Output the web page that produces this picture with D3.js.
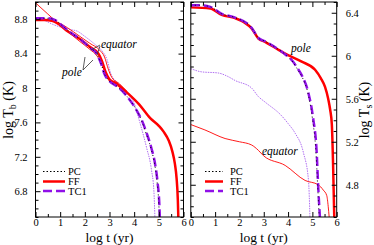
<!DOCTYPE html>
<html><head><meta charset="utf-8">
<script src="https://cdn.jsdelivr.net/npm/d3@7"></script>
<style>
html,body{margin:0;padding:0;background:#fff;}
svg text{font-family:"Liberation Serif","DejaVu Serif",serif !important;fill:#000;}
</style></head>
<body><svg id="c" width="374" height="245"></svg>
<script>
// ---- data ----
const xTicks = [0,1,2,3,4,5,6];
const tbTicks = [6.8,7.2,7.6,8,8.4,8.8];
const tsTicks = [4.8,5.2,5.6,6,6.4];
const legendNames = ["PC","FF","TC1"];

// left panel: log Tb vs log t
const tbFF = [[0,8.79],[0.4,8.79],[0.7,8.78],[1.0,8.73],[1.3,8.66],[1.8,8.57],[2.2,8.48],[2.55,8.40],[2.7,8.31],[2.85,8.18],[3.0,8.10],[3.3,8.05],[3.7,7.95],[4.2,7.81],[4.65,7.65],[5.0,7.56],[5.2,7.49],[5.4,7.39],[5.55,7.26],[5.65,7.12],[5.72,6.95],[5.77,6.7],[5.79,6.5]];
const tbTC1 = [[0,8.81],[0.5,8.81],[0.8,8.79],[1.1,8.72],[1.4,8.65],[1.8,8.57],[2.2,8.47],[2.5,8.39],[2.65,8.29],[2.8,8.16],[3.0,8.08],[3.3,8.02],[3.6,7.94],[3.9,7.83],[4.1,7.74],[4.3,7.63],[4.5,7.48],[4.7,7.30],[4.84,7.13],[4.95,6.9],[5.02,6.65],[5.04,6.5]];
const tbPC = [[0,8.81],[0.5,8.81],[0.8,8.79],[1.1,8.72],[1.4,8.65],[1.8,8.57],[2.2,8.47],[2.5,8.39],[2.65,8.29],[2.8,8.16],[3.0,8.08],[3.3,8.02],[3.6,7.94],[3.9,7.83],[4.1,7.74],[4.3,7.62],[4.5,7.46],[4.7,7.28],[4.84,7.10],[4.94,6.88],[5.0,6.65],[5.02,6.5]];
const tbFFpole = [[0,8.99],[0.5,8.86],[1.0,8.73],[1.5,8.61],[1.8,8.54],[2.2,8.45],[2.5,8.37],[2.7,8.27],[2.85,8.15],[3.0,8.08],[3.3,8.03],[3.7,7.94]];
const tbFFeq = [[0,8.79],[0.7,8.78],[1.0,8.75],[1.3,8.70],[1.8,8.60],[2.2,8.52],[2.6,8.44],[2.8,8.36],[2.95,8.22],[3.1,8.12],[3.4,8.05],[3.7,7.96]];
const tbTC1eq = [[0,8.80],[0.4,8.78],[0.7,8.74],[1.0,8.71],[1.4,8.68],[1.7,8.66],[2.0,8.60],[2.4,8.51],[2.7,8.43],[2.9,8.33],[3.05,8.17],[3.3,8.07],[3.7,7.95],[4.0,7.82],[4.23,7.60],[4.5,7.31],[4.7,7.05],[4.8,6.8],[4.84,6.5]];

// right panel: log Ts vs log t
const tsFFpole = [[0,6.45],[0.8,6.44],[1.27,6.38],[1.82,6.35],[2.2,6.31],[2.5,6.255],[2.78,6.16],[3.05,6.13],[3.5,6.07],[3.88,6.02],[4.56,5.945],[5.11,5.87],[5.35,5.79],[5.52,5.71],[5.65,5.6],[5.73,5.50],[5.80,5.36],[5.85,5.0],[5.9,4.5]];
const tsTC1pole = [[0,6.47],[0.4,6.47],[0.8,6.455],[1.27,6.39],[1.82,6.355],[2.5,6.26],[2.78,6.165],[3.05,6.135],[3.5,6.075],[3.9,6.01],[4.15,5.96],[4.4,5.88],[4.56,5.82],[4.84,5.65],[5.03,5.42],[5.18,5.09],[5.24,4.78],[5.31,4.5]];
const tsPCpole = [[0,6.47],[0.4,6.47],[0.8,6.455],[1.27,6.39],[1.82,6.355],[2.5,6.26],[2.78,6.165],[3.05,6.135],[3.5,6.075],[3.9,6.01],[4.15,5.955],[4.4,5.87],[4.56,5.81],[4.84,5.63],[5.0,5.42],[5.15,5.09],[5.22,4.78],[5.28,4.5]];
const tsFFeq = [[0,5.36],[0.58,5.31],[1.41,5.23],[2.0,5.20],[2.5,5.17],[2.78,5.12],[2.99,5.07],[3.88,4.98],[4.7,4.84],[5.24,4.80],[5.45,4.75],[5.59,4.70],[5.65,4.6],[5.69,4.5]];
const tsTC1eq = [[0,5.88],[0.45,5.85],[1.12,5.84],[1.5,5.81],[1.82,5.77],[2.5,5.70],[2.78,5.62],[3.05,5.57],[3.74,5.44],[4.0,5.37],[4.29,5.28],[4.63,5.10],[4.84,4.84],[4.9,4.5]];

// ---- drawing ----
const FONT = '"Liberation Serif","DejaVu Serif",serif';
const svg = d3.select("#c");
const RED = "#ff0000", PUR = "#9010e8", LPUR = "#b070f0";
const yTop = 2, yBot = 217;

function panel(x0, x1, ydom, yticks, labelSide) {
  const g = svg.append("g");
  const x = d3.scaleLinear().domain([0,6]).range([x0,x1]);
  const y = d3.scaleLinear().domain(ydom).range([yBot,yTop]);
  const id = "clip" + Math.round(x0);
  svg.append("clipPath").attr("id", id).append("rect")
    .attr("x", x0).attr("y", yTop).attr("width", x1-x0).attr("height", yBot-yTop);
  g.append("rect").attr("x", x0).attr("y", yTop).attr("width", x1-x0).attr("height", yBot-yTop)
    .attr("fill", "#fff");
  const plot = g.append("g").attr("clip-path", `url(#${id})`);
  const xMinor = d3.range(0, 6.01, 0.5).filter(v => v % 1 !== 0);
  const yMinor = d3.range(Math.ceil(ydom[0]*10)/10, ydom[1]+1e-6, 0.1).filter(v => !yticks.some(t => Math.abs(t-v) < 1e-6));
  const axB = d3.axisBottom(x).tickValues(xTicks).tickSize(-5).tickPadding(1.5).tickFormat(d3.format("d"));
  const axT = d3.axisTop(x).tickValues(xTicks).tickSize(-5).tickFormat("");
  g.append("g").attr("transform", `translate(0,${yBot})`).call(axB);
  g.append("g").attr("transform", `translate(0,${yBot})`).call(d3.axisBottom(x).tickValues(xMinor).tickSize(-3).tickFormat(""));
  g.append("g").attr("transform", `translate(0,${yTop})`).call(axT);
  g.append("g").attr("transform", `translate(0,${yTop})`).call(d3.axisTop(x).tickValues(xMinor).tickSize(-3).tickFormat(""));
  const fmt = d => (Math.abs(d % 1) < 1e-9 ? d3.format("d")(d) : d3.format(".1f")(d));
  const axL = d3.axisLeft(y).tickValues(yticks).tickSize(-5).tickPadding(8).tickFormat(labelSide === "left" ? fmt : "");
  const axR = d3.axisRight(y).tickValues(yticks).tickSize(-5).tickPadding(9).tickFormat(labelSide === "right" ? fmt : "");
  g.append("g").attr("transform", `translate(${x0},0)`).call(axL);
  g.append("g").attr("transform", `translate(${x0},0)`).call(d3.axisLeft(y).tickValues(yMinor).tickSize(-3).tickFormat(""));
  g.append("g").attr("transform", `translate(${x1},0)`).call(axR);
  g.append("g").attr("transform", `translate(${x1},0)`).call(d3.axisRight(y).tickValues(yMinor).tickSize(-3).tickFormat(""));
  g.selectAll(".domain").remove();
  g.selectAll("g").attr("font-family", FONT);
  g.selectAll(".tick line").attr("stroke", "#000").attr("stroke-width", 1);
  g.selectAll(".tick text").attr("font-size", 10.5).attr("font-family", FONT);
  g.append("rect").attr("x", x0).attr("y", yTop).attr("width", x1-x0).attr("height", yBot-yTop)
    .attr("fill", "none").attr("stroke", "#000").attr("stroke-width", 1);
  const line = d3.line().x(d => x(d[0])).y(d => y(d[1])).curve(d3.curveMonotoneX);
  function draw(data, color, w, dash) {
    plot.append("path").attr("d", line(data)).attr("fill", "none")
      .attr("stroke", color).attr("stroke-width", w).attr("stroke-dasharray", dash || null)
      .attr("stroke-linejoin", "round");
  }
  return { draw, x, y, g };
}

function legend(g, lx, lx2, tx) {
  const ys = [171.5, 181.5, 191];
  const styles = [["#000",1,"1.5,2"],[RED,2.5,null],[PUR,2.5,"9,4"]];
  legendNames.forEach((n,i) => {
    g.append("line").attr("x1", lx).attr("x2", lx2).attr("y1", ys[i]).attr("y2", ys[i])
      .attr("stroke", styles[i][0]).attr("stroke-width", styles[i][1]).attr("stroke-dasharray", styles[i][2]);
    g.append("text").attr("x", tx).attr("y", ys[i] + 3.5).attr("font-size", 10.5).attr("font-family", FONT).text(n);
  });
}

function label(g, x, y, s) {
  g.append("text").attr("x", x).attr("y", y).attr("font-size", 11.5).attr("font-style","italic")
    .attr("font-family", FONT).text(s);
}

// Left panel
const L = panel(35.5, 183.5, [6.5, 9.0], tbTicks, "left");
L.draw(tbTC1eq, LPUR, 1, "1.5,1");
L.draw(tbFFpole, RED, 0.9);
L.draw(tbFFeq, RED, 0.9);
L.draw(tbFF, RED, 2.5);
L.draw(tbTC1, PUR, 2.5, "9,4");
L.draw(tbPC, "#000", 1, "1,3");
legend(L.g, 43, 65, 68);
label(L.g, 101, 48, "equator");
label(L.g, 62, 76, "pole");
[[100,45,91,50],[100,46,97,55],[83,70,85,57],[83,70,93,60]].forEach(s =>
  L.g.append("line").attr("x1",s[0]).attr("y1",s[1]).attr("x2",s[2]).attr("y2",s[3]).attr("stroke","#333").attr("stroke-width",0.8));

// Right panel
const R = panel(190.8, 336.7, [4.5, 6.5], tsTicks, "right");
R.draw(tsTC1eq, LPUR, 1, "1.5,1");
R.draw(tsFFeq, RED, 0.9);
R.draw(tsFFpole, RED, 2.5);
R.draw(tsTC1pole, PUR, 2.5, "9,4");
R.draw(tsPCpole, "#000", 1, "1,3");
legend(R.g, 205, 223, 230);
label(R.g, 291, 52, "pole");
label(R.g, 262, 155, "equator");

// axis titles
function xTitle(cx) {
  svg.append("text").attr("x", cx).attr("y", 242).attr("text-anchor","middle").attr("font-size", 13.5)
    .attr("font-family", FONT).text("log t (yr)");
}
xTitle(109.5); xTitle(263.7);
function yTitle(cx, sub) {
  const t = svg.append("text").attr("transform", `translate(${cx},110) rotate(-90)`)
    .attr("text-anchor","middle").attr("font-size", 14).attr("font-family", FONT);
  t.append("tspan").text("log T");
  t.append("tspan").attr("font-size", 10).attr("dy", 3).text(sub);
  t.append("tspan").attr("dy", -3).text(" (K)");
}
yTitle(13, "b");
yTitle(369, "s");
</script></body></html>
